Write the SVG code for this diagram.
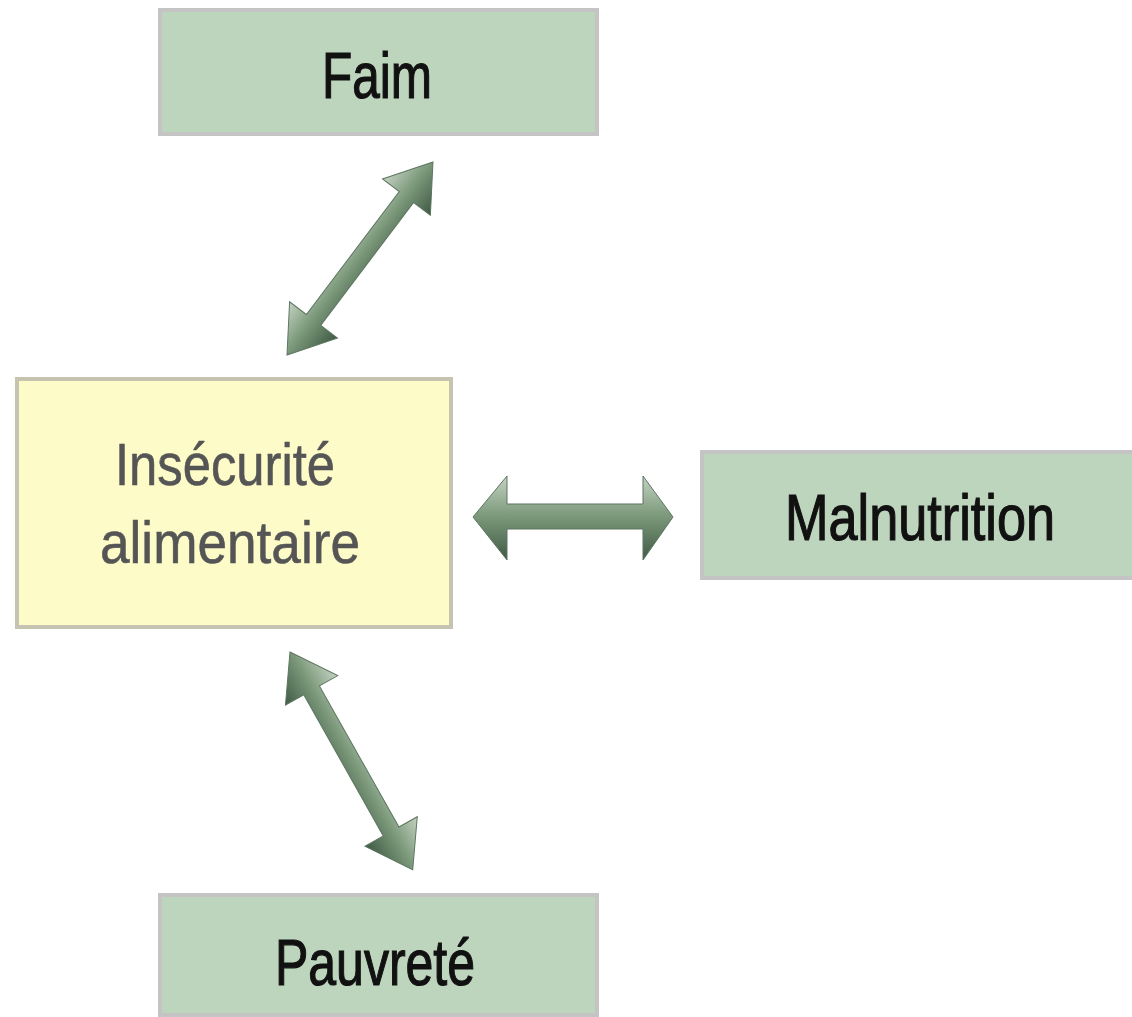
<svg xmlns="http://www.w3.org/2000/svg" width="1132" height="1017" viewBox="0 0 1132 1017">
<defs>
<linearGradient id="ag" x1="0" y1="0" x2="0" y2="1">
<stop offset="0" stop-color="#c4d2c2"/>
<stop offset="0.45" stop-color="#7f9c7e"/>
<stop offset="1" stop-color="#3f5a44"/>
</linearGradient>
<style>
.g{fill:#bdd4bd;stroke:#c4c4c4;stroke-width:4}
.y{fill:#fdfbc8;stroke:#c6c4b0;stroke-width:4}
.t{font-family:"Liberation Sans",Arial,sans-serif;font-size:64px;fill:#111;stroke:#111;stroke-width:1.2}
.ty{font-family:"Liberation Sans",Arial,sans-serif;font-size:60px;fill:#555;stroke:#555;stroke-width:0.6}
.a{fill:url(#ag);stroke:#5d7560;stroke-width:1}
</style>
</defs>
<rect width="1132" height="1017" fill="#fff"/>
<g id="faim"><rect class="g" x="160" y="10" width="437" height="124"/><text class="t" x="377" y="98" text-anchor="middle" textLength="110" lengthAdjust="spacingAndGlyphs">Faim</text></g>
<g id="insecurite"><rect class="y" x="17" y="379" width="434" height="248"/><text class="ty" x="225" y="485" text-anchor="middle" textLength="220" lengthAdjust="spacingAndGlyphs">Insécurité</text><text class="ty" x="230" y="563" text-anchor="middle" textLength="260" lengthAdjust="spacingAndGlyphs">alimentaire</text></g>
<g id="malnutrition"><rect class="g" x="702" y="452" width="432" height="126"/><text class="t" x="920" y="540" text-anchor="middle" textLength="270" lengthAdjust="spacingAndGlyphs">Malnutrition</text></g>
<g id="pauvrete"><rect class="g" x="160" y="895" width="437" height="120"/><text class="t" x="375" y="985" text-anchor="middle" textLength="200" lengthAdjust="spacingAndGlyphs">Pauvreté</text></g>
<g id="connectors">
<path class="a" d="M473,517 L507,476 L507,504 L643,504 L643,476 L673,517 L643,560 L643,529 L507,529 L507,560 Z"/>
<g transform="translate(287,355) rotate(-52.9)"><path class="a" d="M0,0 L44,-30 L44,-9 L198,-9 L198,-30 L242,0 L198,30 L198,9 L44,9 L44,30 Z"/></g>
<g transform="translate(290,652) rotate(60.6)"><path class="a" d="M0,0 L44,-30 L44,-9 L206,-9 L206,-30 L250,0 L206,30 L206,9 L44,9 L44,30 Z"/></g>
</g>
</svg>
